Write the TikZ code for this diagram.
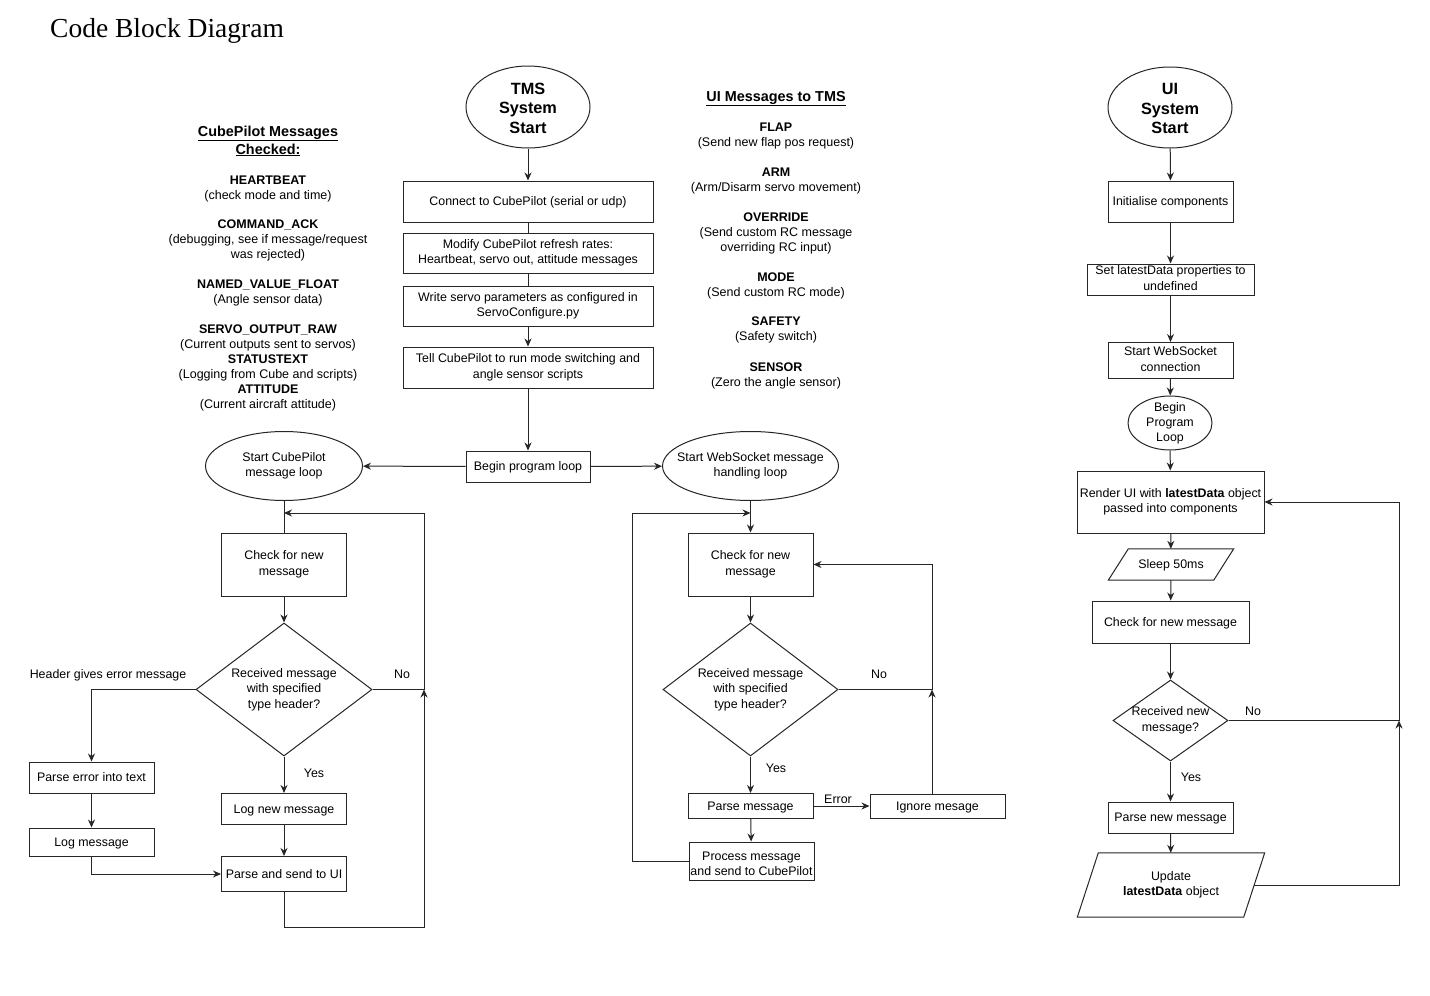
\documentclass[tikz,border=0pt]{standalone}
\usepackage{fontspec}
\setmainfont{Liberation Sans}
\newfontfamily\titlefont{Liberation Serif}
\usetikzlibrary{shapes.geometric,arrows.meta,calc}
\newcommand\myfs{\fontsize{12.4}{15.5}\selectfont}
\newcommand\listfs{\fontsize{12.5}{15}\selectfont}
\newcommand\headfs{\fontsize{14.4}{18}\selectfont\bfseries}
\newcommand\bigfs{\fontsize{16.3}{19.5}\selectfont\bfseries}
\newcommand\mystrut{\rule[-2.63pt]{0pt}{13.85pt}}
\begin{document}
\begin{tikzpicture}[x=1pt,y=-1pt,
  conn/.style={line width=1pt, draw=black!85},
  arr/.style={conn, -{Stealth[length=8pt,width=7pt]}},
  boxns/.style={draw=black!85, line width=1pt, rectangle, inner sep=1pt, align=center, font=\myfs},
  box/.style={boxns, execute at begin node=\mystrut, execute at end node=\mystrut},
  ell/.style={draw=black!85, line width=1pt, ellipse, inner sep=0pt},
  dia/.style={draw=black!85, line width=1pt, diamond, inner sep=0pt},
  txt/.style={align=center, font=\myfs, inner sep=0pt, execute at begin node=\mystrut, execute at end node=\mystrut},
  lst/.style={align=center, font=\listfs, inner sep=0pt},
  para/.style={inner sep=1pt, align=center, font=\myfs, execute at begin node=\mystrut, execute at end node=\mystrut}
]
\useasboundingbox (0,0) rectangle (1430,996);
\fill[white] (0,0) rectangle (1430,996);

% title
\node[anchor=base west, inner sep=0pt, font=\titlefont\fontsize{27.5}{30}\selectfont] (title) at (50,37) {Code Block Diagram};

% ---------- left text ----------
\node[lst, font=\headfs] (cpH) at (268,141) {\underline{CubePilot Messages}\\\underline{Checked:}};
\node[lst] (cpA) at (268,188.5) {\textbf{HEARTBEAT}\\(check mode and time)};
\node[lst] (cpB) at (268,240.5) {\textbf{COMMAND\_ACK}\\(debugging, see if message/request\\was rejected)};
\node[lst] (cpC) at (268,292.5) {\textbf{NAMED\_VALUE\_FLOAT}\\(Angle sensor data)};
\node[lst] (cpD) at (268,368) {\textbf{SERVO\_OUTPUT\_RAW}\\(Current outputs sent to servos)\\\textbf{STATUSTEXT}\\(Logging from Cube and scripts)\\\textbf{ATTITUDE}\\(Current aircraft attitude)};

% ---------- UI messages text ----------
\node[lst, font=\headfs] (uiH) at (776,98.5) {\underline{UI Messages to TMS}};
\node[lst] (uiA) at (776,136) {\textbf{FLAP}\\(Send new flap pos request)};
\node[lst] (uiB) at (776,180.5) {\textbf{ARM}\\(Arm/Disarm servo movement)};
\node[lst] (uiC) at (776,233) {\textbf{OVERRIDE}\\(Send custom RC message\\overriding RC input)};
\node[lst] (uiD) at (776,285.5) {\textbf{MODE}\\(Send custom RC mode)};
\node[lst] (uiE) at (776,330) {\textbf{SAFETY}\\(Safety switch)};
\node[lst] (uiF) at (776,375.5) {\textbf{SENSOR}\\(Zero the angle sensor)};

% ---------- TMS main column ----------
\node[ell, minimum width=124, minimum height=82] (tms) at (528,107) {};
\node[lst, font=\bigfs] (tmsT) at ([yshift=-1pt]tms.center) {TMS\\System\\Start};
\node[box, minimum width=250, minimum height=41] (connect) at (528,201.5) {Connect to CubePilot (serial or udp)};
\node[box, minimum width=250, minimum height=40] (modify) at (528,253) {Modify CubePilot refresh rates:\\Heartbeat, servo out, attitude messages};
\node[box, minimum width=250, minimum height=40] (write) at (528,306) {Write servo parameters as configured in\\ServoConfigure.py};
\node[box, minimum width=250, minimum height=41] (tell) at (528,367.5) {Tell CubePilot to run mode switching and\\angle sensor scripts};
\node[box, minimum width=124, minimum height=31] (begin) at (528,466.5) {Begin program loop};

\draw[arr] (tms) -- (connect);
\draw[conn] (connect) -- (modify);
\draw[conn] (modify) -- (write);
\draw[arr] (write) -- (tell);
\draw[arr] (tell) -- (begin);

% ---------- CubePilot loop ----------
\node[ell, minimum width=157, minimum height=69] (cpl) at (284,466) {};
\node[txt] (cplT) at (cpl) {Start CubePilot\\message loop};
\node[box, minimum width=125, minimum height=63] (chk1) at (284,564.5) {Check for new\\message};
\node[dia, minimum width=176, minimum height=133] (d1) at (284,689.5) {};
\node[txt] (d1T) at (d1) {Received message\\with specified\\type header?};
\node[box, minimum width=125, minimum height=31] (lognew) at (284,809) {Log new message};
\node[box, minimum width=125, minimum height=35] (psend) at (284,874) {Parse and send to UI};
\node[box, minimum width=125, minimum height=31] (perr) at (91.5,777.5) {Parse error into text};
\node[box, minimum width=125, minimum height=28] (logm) at (91.5,842) {Log message};

\coordinate (j1) at (424,689.5);
\coordinate (j1t) at (424,513);
\coordinate (j2) at (284,513);
\coordinate (lb) at (424,927);

\draw[arr] (begin) -- (cpl);
\draw[conn] (cpl) -- (chk1);
\draw[arr] (chk1) -- (d1);
\draw[arr] (d1.east) -- (j1) -- (j1t) -- (j2);
\draw[arr] (psend.south) |- (lb) -- (j1);
\draw[arr] (d1.west) -| (perr.north);
\draw[arr] (d1.south) -- (lognew.north);
\draw[arr] (lognew) -- (psend);
\draw[arr] (perr) -- (logm);
\draw[arr] (logm.south) |- (psend.west);

\node[txt] (lNo1) at (402,674.5) {No};
\node[txt] (lHdr) at (108,674.5) {Header gives error message};
\node[txt] (lYes1) at (314,773) {Yes};

% ---------- WebSocket loop ----------
\node[ell, minimum width=176, minimum height=69] (wsl) at (750.5,466) {};
\node[txt] (wslT) at (wsl) {Start WebSocket message\\handling loop};
\node[box, minimum width=125, minimum height=63] (chk2) at (750.5,564.5) {Check for new\\message};
\node[dia, minimum width=175, minimum height=133] (d2) at (750.5,689.5) {};
\node[txt] (d2T) at (d2) {Received message\\with specified\\type header?};
\node[box, minimum width=125, minimum height=25] (pmsg) at (750.5,806) {Parse message};
\node[box, minimum width=135, minimum height=24] (ign) at (937.5,806) {Ignore mesage};
\node[boxns, minimum width=125, minimum height=38] (proc) at (751.5,861) {};
\node[txt] (procT) at (751.5,865) {Process message\\and send to CubePilot};

\coordinate (j3) at (932,689.5);
\coordinate (j4) at (750.5,513);
\coordinate (j4l) at (632,513);

\draw[arr] (begin) -- (wsl);
\draw[arr] (wsl) -- (chk2);
\draw[arr] (chk2) -- (d2);
\draw[conn] (d2.east) -- (j3);
\draw[arr] (ign.north -| j3) -- (j3);
\draw[arr] (j3) |- (chk2.east);
\draw[arr] (d2.south) -- (pmsg.north);
\draw[arr] (pmsg) -- (ign);
\draw[arr] (pmsg) -- (proc);
\draw[arr] (proc.west) -| (j4l) -- (j4);

\node[txt] (lNo2) at (879,674.5) {No};
\node[txt] (lYes2) at (776,768) {Yes};
\node[txt] (lErr) at (838,799) {Error};

% ---------- UI column ----------
\node[ell, minimum width=124, minimum height=81] (ui) at (1170,107.5) {};
\node[lst, font=\bigfs] (uiT) at ([yshift=-1pt]ui.center) {UI\\System\\Start};
\node[box, minimum width=125, minimum height=41] (init) at (1170.5,201.5) {Initialise components};
\node[box, minimum width=167, minimum height=31] (setd) at (1170.5,279.5) {Set latestData properties to\\undefined};
\node[box, minimum width=125, minimum height=36] (ws) at (1170.5,360.5) {Start WebSocket\\connection};
\node[ell, minimum width=84, minimum height=54] (bpl) at (1170,423) {};
\node[lst, font=\fontsize{12.4}{15}\selectfont] (bplT) at (bpl) {Begin\\Program\\Loop};
\node[box, minimum width=187, minimum height=62] (render) at (1170.5,502) {Render UI with \textbf{latestData} object\\passed into components};
\node[para, minimum width=105, minimum height=31] (sleep) at (1171,564.5) {Sleep 50ms};
\draw[conn] ([xshift=10pt]sleep.north west) -- ([xshift=10pt]sleep.north east) -- ([xshift=-10pt]sleep.south east) -- ([xshift=-10pt]sleep.south west) -- cycle;
\node[box, minimum width=157, minimum height=42] (chk3) at (1170.5,622) {Check for new message};
\node[dia, minimum width=115, minimum height=81] (d3) at (1170.5,720.5) {};
\node[txt] (d3T) at (d3) {Received new\\message?};
\node[box, minimum width=125, minimum height=31] (pnew) at (1170.5,817.5) {Parse new message};
\node[para, minimum width=166, minimum height=64] (upd) at (1171,885) {Update\\\textbf{latestData} object};
\draw[conn] ([xshift=10.5pt]upd.north west) -- ([xshift=10.5pt]upd.north east) -- ([xshift=-10.5pt]upd.south east) -- ([xshift=-10.5pt]upd.south west) -- cycle;

\coordinate (j5) at (1399,720.5);

\draw[arr] (ui) -- (init);
\draw[arr] (init) -- (setd);
\draw[arr] (setd) -- (ws);
\draw[arr] (ws) -- (bpl);
\draw[arr] (bpl) -- (render);
\draw[arr] (render) -- (sleep);
\draw[arr] (sleep) -- (chk3);
\draw[arr] (chk3) -- (d3);
\draw[arr] (d3) -- (pnew);
\draw[arr] (pnew) -- (upd);
\draw[conn] (d3.east) -- (j5);
\draw[arr] (upd.east) -| (j5);
\draw[arr] (j5) |- (render.east);

\node[txt] (lNo3) at (1253,711.5) {No};
\node[txt] (lYes3) at (1191,777) {Yes};
\end{tikzpicture}
\end{document}
